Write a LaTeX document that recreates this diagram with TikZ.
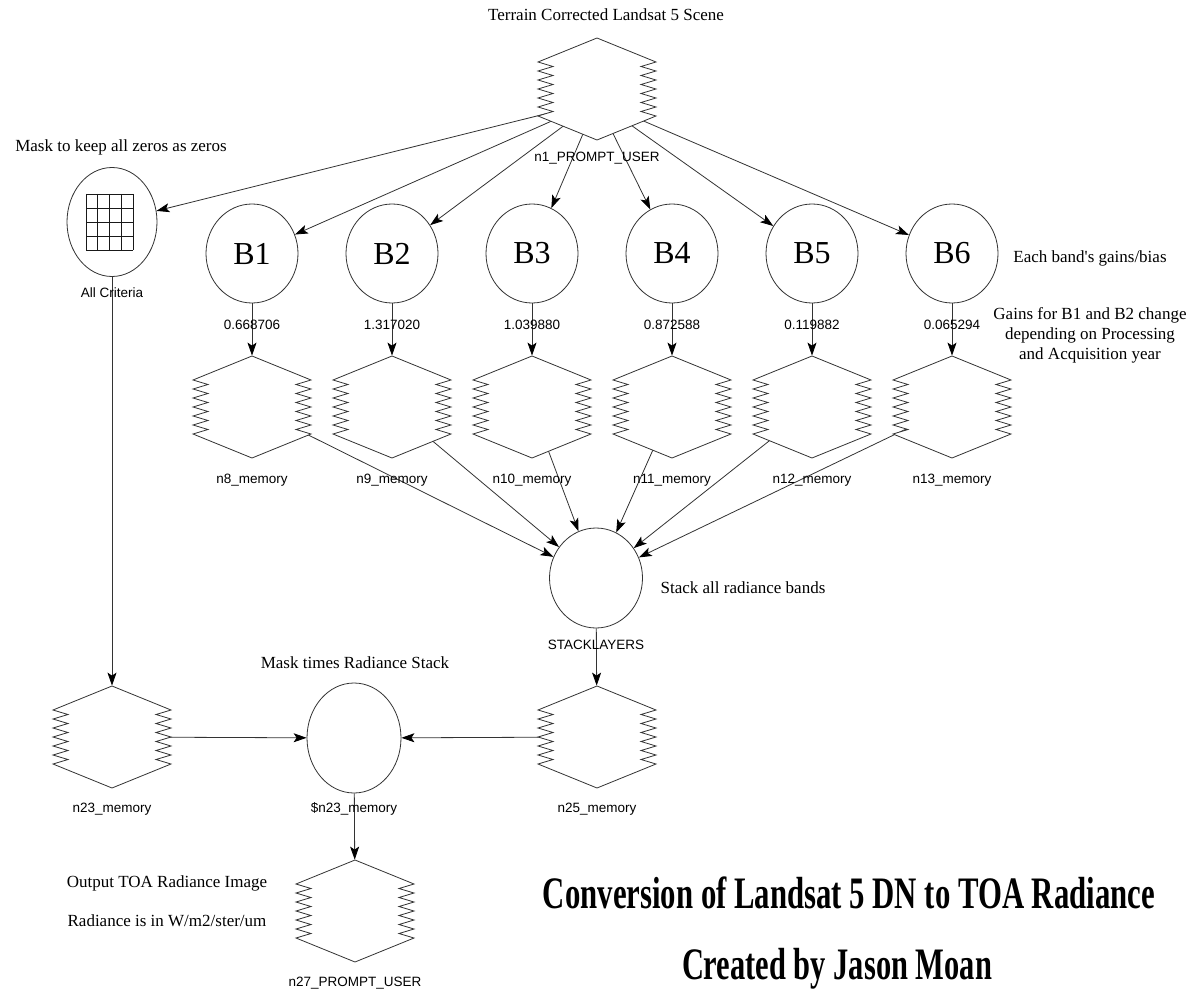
\documentclass[tikz,border=0pt]{standalone}
\usepackage{fontspec}
\usepackage{graphicx}
\setmainfont{Liberation Serif}[Ligatures=TeXOff]
\newfontfamily\lsans{Liberation Sans}
\usetikzlibrary{arrows.meta,shapes.geometric}
\begin{document}
\begin{tikzpicture}[x=1pt,y=-1pt,line width=0.8pt,
  conn/.style={draw=black!80,-{Stealth[length=13pt,width=9pt,inset=3pt,color=black]}},
  ell/.style={ellipse,draw=black!80,line width=0.8pt,inner sep=0pt},
  rnode/.style={rectangle,minimum width=118pt,minimum height=102pt,inner sep=0pt},
  slabel/.style={font=\lsans\fontsize{13.5}{15}\selectfont,inner sep=0pt},
  stext/.style={font=\fontsize{17}{20}\selectfont,inner sep=0pt,align=center},
  blab/.style={font=\fontsize{32}{36}\selectfont},
  raster/.pic={\draw[draw=black!80,fill=white,line join=miter]
    (0,-51) -- (59,-27) -- (44,-22.5) -- (59,-18) -- (44,-13.5) -- (59,-9) -- (44,-4.5) -- (59,0)
    -- (44,4.5) -- (59,9) -- (44,13.5) -- (59,18) -- (44,22.5) -- (59,27) -- (0,51)
    -- (-59,27) -- (-44,22.5) -- (-59,18) -- (-44,13.5) -- (-59,9) -- (-44,4.5) -- (-59,0)
    -- (-44,-4.5) -- (-59,-9) -- (-44,-13.5) -- (-59,-18) -- (-44,-22.5) -- (-59,-27) -- cycle;}
]
\useasboundingbox[fill=white] (0,0) rectangle (1201,995);

% raster nodes (invisible frames)
\node[rnode] (n1) at (597,89) {};
\node[rnode] (n8) at (252,407) {};
\node[rnode] (n9) at (392,407) {};
\node[rnode] (n10) at (532,407) {};
\node[rnode] (n11) at (672,407) {};
\node[rnode] (n12) at (812,407) {};
\node[rnode] (n13) at (952,407) {};
\node[rnode] (n23) at (112,737) {};
\node[rnode] (n25) at (597,737) {};
\node[rnode] (n27) at (355,911) {};

% ellipses
\node[ell,minimum width=90pt,minimum height=109pt] (mask) at (112,222) {};
\foreach \i in {0,...,4}{
  \draw[black!90] (86+\i*11.75,194) -- (86+\i*11.75,250);
  \draw[black!90] (86,194+\i*14) -- (133,194+\i*14);
}
\node[ell,blab,minimum width=92pt,minimum height=99pt] (B1) at (252,253.5) {B1};
\node[ell,blab,minimum width=92pt,minimum height=99pt] (B2) at (392,253.5) {B2};
\node[ell,blab,minimum width=92pt,minimum height=99pt] (B3) at (532,253.5) {B3};
\node[ell,blab,minimum width=92pt,minimum height=99pt] (B4) at (672,253.5) {B4};
\node[ell,blab,minimum width=92pt,minimum height=99pt] (B5) at (812,253.5) {B5};
\node[ell,blab,minimum width=92pt,minimum height=99pt] (B6) at (952,253.5) {B6};
\node[ell,minimum width=93pt,minimum height=100pt] (stack) at (596,578) {};
\node[ell,minimum width=94pt,minimum height=110pt] (e23) at (354,738) {};

% connectors
\draw[conn] ([yshift=-12pt]n1.center) -- (mask);
\foreach \b in {B1,B2,B3,B4,B5,B6}{\draw[conn] ([yshift=-12pt]n1.center) -- (\b);}
\draw[conn] (B1) -- (n8);
\draw[conn] (B2) -- (n9);
\draw[conn] (B3) -- (n10);
\draw[conn] (B4) -- (n11);
\draw[conn] (B5) -- (n12);
\draw[conn] (B6) -- (n13);
\foreach \m in {n8,n9,n10,n11,n12,n13}{\draw[conn] (\m.center) -- (stack);}
\draw[conn] (mask) -- (n23);
\draw[conn] (stack) -- (n25);
\draw[conn] (n23.center) -- (e23);
\draw[conn] (n25.center) -- (e23);
\draw[conn] (e23) -- (n27);

% raster shapes
\foreach \r in {n1,n8,n9,n10,n11,n12,n13,n23,n25,n27}{\pic at (\r) {raster};}

% labels
\node[stext] (tTop) at (606,15) {Terrain Corrected Landsat 5 Scene};
\node[slabel] (ln1) at (597,158) {n1\_PROMPT\_USER};
\node[stext] (tMask) at (121,147) {Mask to keep all zeros as zeros};
\node[slabel] (lmask) at (112,293) {All Criteria};
\node[slabel] (v1) at (252,325) {0.668706};
\node[slabel] (v2) at (392,325) {1.317020};
\node[slabel] (v3) at (532,325) {1.039880};
\node[slabel] (v4) at (672,325) {0.872588};
\node[slabel] (v5) at (812,325) {0.119882};
\node[slabel] (v6) at (952,325) {0.065294};
\node[slabel] (l8) at (252,480) {n8\_memory};
\node[slabel] (l9) at (392,480) {n9\_memory};
\node[slabel] (l10) at (532,480) {n10\_memory};
\node[slabel] (l11) at (672,480) {n11\_memory};
\node[slabel] (l12) at (812,480) {n12\_memory};
\node[slabel] (l13) at (952,480) {n13\_memory};
\node[stext] (tBand) at (1090,258) {Each band's gains/bias};
\node[stext] (tGain) at (1090,335) {Gains for B1 and B2 change\\depending on Processing\\and Acquisition year};
\node[slabel] (lstack) at (596,645) {STACKLAYERS};
\node[stext] (tStack) at (743,588) {Stack all radiance bands};
\node[stext] (tTimes) at (355,663) {Mask times Radiance Stack};
\node[slabel] (l23) at (112,809) {n23\_memory};
\node[slabel] (le23) at (354,809) {\$n23\_memory};
\node[slabel] (l25) at (597,809) {n25\_memory};
\node[slabel] (l27) at (355,983) {n27\_PROMPT\_USER};
\node[stext] (tOut) at (167,883) {Output TOA Radiance Image};
\node[stext] (tRad) at (167,921) {Radiance is in W/m2/ster/um};
\node[anchor=base,inner sep=0pt] (title) at (849,908) {\resizebox{612pt}{\height}{\fontsize{45}{50}\selectfont\bfseries Conversion of Landsat 5 DN to TOA Radiance}};
\node[anchor=base,inner sep=0pt] (author) at (837,979) {\resizebox{310pt}{\height}{\fontsize{45}{50}\selectfont\bfseries Created by Jason Moan}};
\end{tikzpicture}
\end{document}
